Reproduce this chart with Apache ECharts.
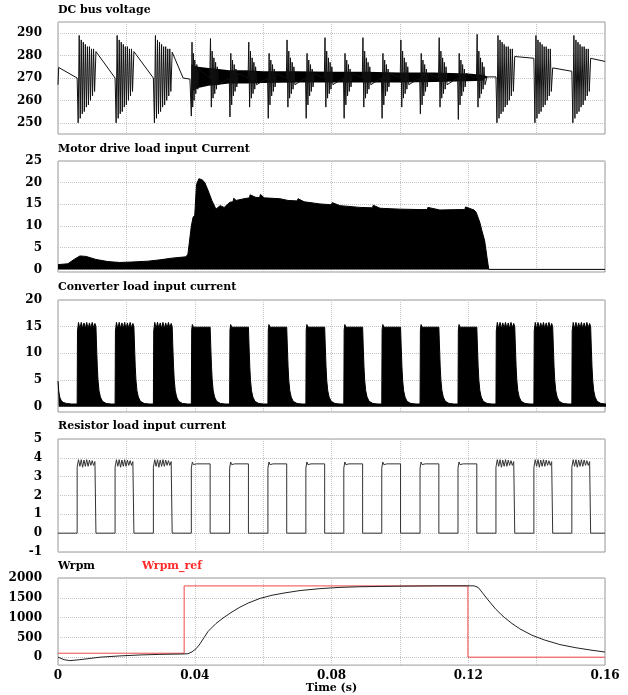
<!DOCTYPE html>
<html>
<head>
<meta charset="utf-8">
<script src="https://cdn.jsdelivr.net/npm/echarts@6/dist/echarts.min.js"></script>
<style>
  html, body { margin: 0; padding: 0; background: #fff; }
  #chart { width: 628px; height: 695px; }
</style>
</head>
<body>
<div id="chart"></div>
<script>
// time axis (s)
const timeTicks = [0, 0.04, 0.08, 0.12, 0.16];

// switching pulses of the converter / resistor loads (start times, s)
const pulseStarts = [0.0056, 0.0167, 0.0279, 0.0390, 0.0502, 0.0614, 0.0725,
                     0.0836, 0.0947, 0.1059, 0.1170, 0.1281, 0.1392, 0.1503];
const pulseRipple = [1, 1, 1, 0, 0, 0, 0, 0, 0, 0, 0, 1, 1, 1];

// DC bus voltage
const busSlow = [[0, 267], [0.0002, 274.7], [0.0056, 270], [0.0111, 281.8], [0.0167, 270],
                 [0.0222, 281.8], [0.0279, 270], [0.0334, 281.5], [0.0366, 270], [0.0386, 269.5],
                 [0.1255, 270.5], [0.1281, 270.5], [0.1336, 279.6], [0.1392, 278.8],
                 [0.1447, 274.5], [0.1503, 273], [0.1558, 278.8], [0.16, 277.4]];
const busBurstStarts = [0.0056, 0.0167, 0.0279, 0.1281, 0.1392, 0.1503];
const busBurstOff = [0.0003, 0.0006, 0.0009, 0.0012, 0.0015, 0.0018, 0.0021, 0.0024, 0.0027,
                     0.0030, 0.0033, 0.0036, 0.0039, 0.0042, 0.0045, 0.0048, 0.0051];
const busBurstVal = [250, 289, 252, 287, 254, 286, 255, 285, 257, 284, 258, 284, 260, 283, 262, 283, 264];
const busMotorT = [0.0388, 0.0390, 0.0392, 0.0394, 0.0396, 0.0398, 0.0400, 0.0403, 0.0406, 0.0409, 0.0412];
const busMotorV = [270, 253, 286, 257, 281, 260, 278, 263, 276, 265, 274];
const busDipTimes = [0.0502, 0.0614, 0.0725, 0.0836, 0.0947, 0.1059, 0.1170];
const busDipValues = [252.6, 252, 252, 252, 252, 254, 251.5];
const busPeakTimes = [0.0445, 0.0557, 0.0669, 0.0780, 0.0891, 0.1002, 0.1114, 0.1225];
const busPeakValues = [287.6, 286, 287, 288, 288, 287, 288, 289.5];
const busRingOff = [0.00025, 0.0005, 0.00075, 0.001, 0.00125, 0.0015, 0.00175, 0.002, 0.0023];
const busDipRing = [281, 258, 278, 262, 276, 264, 274, 266, 272];
const busPeakRing = [257, 282, 261, 279, 263, 277, 265, 275, 267];
const bandT = [0.0390, 0.0410, 0.0440, 0.0470, 0.0500, 0.0550, 0.0600, 0.0700,
               0.0800, 0.0900, 0.1000, 0.1100, 0.1200, 0.1240, 0.1255];
const bandHigh = [276, 275, 274.5, 274, 273.5, 273.5, 273, 273, 272.8, 272.8, 272.5, 272.5, 272, 271.5, 270.8];
const bandLow = [264, 265.5, 266.5, 267, 267.5, 267.5, 267.8, 268, 268, 268, 268, 268.2, 268.5, 268.8, 270.2];

// motor drive load input current (upper edge of the filled trace)
const motorT = [0, 0.0029, 0.0047, 0.0064, 0.0082, 0.0111, 0.0146, 0.0181, 0.0216, 0.0263, 0.0298,
                0.0333, 0.0374, 0.0380, 0.0390, 0.0395, 0.0400, 0.0405, 0.0412, 0.0421, 0.0429,
                0.0439, 0.0450, 0.0462, 0.0474, 0.0486, 0.0503, 0.0512, 0.0514, 0.0521, 0.0544,
                0.0560, 0.0562, 0.0579, 0.0590, 0.0592, 0.0603, 0.0649, 0.0673, 0.0700, 0.0702,
                0.0720, 0.0766, 0.0800, 0.0802, 0.0825, 0.0883, 0.0920, 0.0922, 0.0942, 0.1000,
                0.1059, 0.1080, 0.1082, 0.1117, 0.1176, 0.1190, 0.1192, 0.1217, 0.1223, 0.1234,
                0.1240, 0.1248, 0.1255, 0.1260, 0.16];
const motorI = [1.1, 1.3, 2.3, 3.1, 3.0, 2.3, 1.8, 1.6, 1.7, 1.9, 2.2,
                2.6, 2.9, 3.5, 10, 12, 12.5, 19.5, 20.9, 20.7, 20.1,
                18.2, 15.9, 13.9, 14.7, 14.3, 15.5, 15.6, 16.4, 15.9, 16.3,
                16.5, 17.2, 16.6, 16.6, 17.3, 16.5, 16.3, 15.9, 15.8, 16.3,
                15.6, 15.1, 14.9, 15.4, 14.7, 14.3, 14.2, 14.8, 14.1, 13.9,
                13.8, 13.8, 14.3, 13.7, 13.8, 13.8, 14.4, 13.7, 13.2, 10.8,
                8.9, 6.6, 2.7, 0, 0];

// converter load input current
const convStartT = [0, 0.0002, 0.0005, 0.0009, 0.0015, 0.0025, 0.0040];
const convStartI = [4.8, 3.0, 1.8, 1.2, 0.8, 0.6, 0.5];
const convRipOff = [0, 0.0001, 0.0004, 0.0008, 0.0012, 0.0016, 0.0020, 0.0024, 0.0028,
                    0.0032, 0.0036, 0.0040, 0.0044, 0.0048, 0.0052, 0.0055];
const convRipVal = [0.5, 14.2, 15.8, 14.6, 15.8, 14.7, 15.7, 14.7, 15.8, 14.6, 15.7, 14.7, 15.8, 14.8, 15.6, 15.0];
const convFlatOff = [0, 0.0001, 0.0003, 0.0006, 0.0010, 0.0015, 0.0055];
const convFlatVal = [0.5, 14.4, 15.4, 14.9, 15.1, 14.9, 14.9];
const convTailOff = [0.0057, 0.0059, 0.0061, 0.0064, 0.0068, 0.0074, 0.0085, 0.0100];
const convTailVal = [11.0, 7.5, 5.0, 3.0, 1.8, 1.0, 0.6, 0.5];

// resistor load input current
const resRipOff = [0, 0, 0.0004, 0.0008, 0.0012, 0.0016, 0.0020, 0.0024, 0.0028,
                   0.0032, 0.0036, 0.0040, 0.0044, 0.0048, 0.0052, 0.0055, 0.0055];
const resRipVal = [0, 3.5, 3.9, 3.55, 3.9, 3.5, 3.88, 3.55, 3.9, 3.55, 3.88, 3.6, 3.85, 3.6, 3.8, 3.7, 0];
const resFlatOff = [0, 0, 0.0003, 0.0006, 0.0010, 0.0015, 0.0055, 0.0055];
const resFlatVal = [0, 3.45, 3.78, 3.64, 3.72, 3.68, 3.68, 0];

// speed
const wrpmT = [0, 0.0018, 0.0035, 0.0064, 0.0123, 0.0181, 0.0240, 0.0298, 0.0357, 0.0380, 0.0392,
               0.0404, 0.0415, 0.0427, 0.0439, 0.0462, 0.0486, 0.0509, 0.0532, 0.0556, 0.0591,
               0.0626, 0.0661, 0.0708, 0.0766, 0.0825, 0.0883, 0.0942, 0.1000, 0.1117, 0.1217,
               0.1229, 0.1240, 0.1258, 0.1281, 0.1305, 0.1328, 0.1351, 0.1386, 0.1422, 0.1468,
               0.1515, 0.1562, 0.16];
const wrpmV = [0, -63, -87, -63, 0, 32, 56, 71, 79, 87, 135,
               214, 333, 492, 651, 850, 1008, 1143, 1262, 1366, 1485,
               1564, 1620, 1683, 1731, 1763, 1779, 1787, 1794, 1802, 1802,
               1763, 1644, 1445, 1207, 1008, 850, 715, 556, 437, 318,
               238, 175, 130];
const refT = [0, 0.0369, 0.0369, 0.1199, 0.1199, 0.16];
const refV = [100, 100, 1800, 1800, 0, 0];

function zip(ts, vs) {
  return ts.map((t, i) => [t, vs[i]]);
}
function placeShape(start, offs, vals, out) {
  offs.forEach((o, i) => out.push([start + o, vals[i]]));
}

// build traces
const busData = busSlow.slice();
busBurstStarts.forEach(s => placeShape(s, busBurstOff, busBurstVal, busData));
busData.push(...zip(busMotorT, busMotorV));
busDipTimes.forEach((t, k) => {
  busData.push([t - 0.0001, 270], [t + 0.0001, busDipValues[k]]);
  placeShape(t + 0.0001, busRingOff, busDipRing, busData);
});
busPeakTimes.forEach((t, k) => {
  busData.push([t - 0.0001, 270], [t + 0.0001, busPeakValues[k]]);
  placeShape(t + 0.0001, busRingOff, busPeakRing, busData);
});
busData.sort((a, b) => a[0] - b[0]);

const convData = zip(convStartT, convStartI);
pulseStarts.forEach((s, k) => {
  if (pulseRipple[k]) placeShape(s, convRipOff, convRipVal, convData);
  else placeShape(s, convFlatOff, convFlatVal, convData);
  placeShape(s, convTailOff, convTailVal, convData);
});

const resData = [[0, 0]];
pulseStarts.forEach((s, k) => {
  if (pulseRipple[k]) placeShape(s, resRipOff, resRipVal, resData);
  else placeShape(s, resFlatOff, resFlatVal, resData);
});
resData.push([0.16, 0]);

const font = 'DejaVu Serif';
const gridLine = { show: true, lineStyle: { color: '#c4c4c4', type: 'dotted', width: 1 } };

function xAxisFor(g, showLabels) {
  const ax = {
    type: 'value', gridIndex: g, min: 0, max: 0.16, interval: 0.02,
    axisLine: { show: false }, axisTick: { show: false },
    axisLabel: { show: false },
    splitLine: gridLine
  };
  if (showLabels) {
    ax.axisLabel = {
      show: true, customValues: timeTicks, margin: 5,
      formatter: v => (v === 0 ? '0' : v.toFixed(2)),
      color: '#000', fontFamily: font, fontWeight: 'bold', fontSize: 12
    };
    ax.name = 'Time (s)';
    ax.nameLocation = 'middle';
    ax.nameGap = 16;
    ax.nameTextStyle = { color: '#000', fontFamily: font, fontWeight: 'bold', fontSize: 11 };
  }
  return ax;
}
function yAxisFor(g, min, max, ticks) {
  return {
    type: 'value', gridIndex: g, min: min, max: max,
    axisLine: { show: false },
    axisTick: { show: false, customValues: ticks },
    axisLabel: {
      customValues: ticks, margin: 16, formatter: v => String(v),
      color: '#000', fontFamily: font, fontWeight: 'bold', fontSize: 12
    },
    splitLine: gridLine
  };
}

const titleStyle = { color: '#000', fontFamily: font, fontWeight: 'bold', fontSize: 11 };
const grids = [[22, 112], [161, 111], [300, 112], [439, 113], [578, 92]];

const chart = echarts.init(document.getElementById('chart'));
chart.setOption({
  animation: false,
  backgroundColor: '#fff',
  title: [
    { text: 'DC bus voltage', left: 58, top: 5, padding: 0, textStyle: titleStyle },
    { text: 'Motor drive load input Current', left: 58, top: 144, padding: 0, textStyle: titleStyle },
    { text: 'Converter load input current', left: 58, top: 282, padding: 0, textStyle: titleStyle },
    { text: 'Resistor load input current', left: 58, top: 421, padding: 0, textStyle: titleStyle },
    { text: 'Wrpm', left: 58, top: 561, padding: 0, textStyle: titleStyle },
    { text: 'Wrpm_ref', left: 142, top: 561, padding: 0, textStyle: Object.assign({}, titleStyle, { color: '#ff2a2a' }) }
  ],
  grid: grids.map(g => ({
    left: 58, right: 23, top: g[0], height: g[1],
    show: true, borderColor: '#999', borderWidth: 1, backgroundColor: 'transparent'
  })),
  xAxis: [0, 1, 2, 3, 4].map(i => xAxisFor(i, i === 4)),
  yAxis: [
    yAxisFor(0, 245, 295, [250, 260, 270, 280, 290]),
    yAxisFor(1, -0.6, 25, [0, 5, 10, 15, 20, 25]),
    yAxisFor(2, -1, 20, [0, 5, 10, 15, 20]),
    yAxisFor(3, -1, 5, [-1, 0, 1, 2, 3, 4, 5]),
    yAxisFor(4, -200, 2000, [0, 500, 1000, 1500, 2000])
  ],
  series: [
    {
      // dense switching band of the DC bus while the motor runs
      type: 'custom', xAxisIndex: 0, yAxisIndex: 0,
      data: [[0.08, 270]],
      renderItem: function (params, api) {
        const top = bandT.map((t, i) => api.coord([t, bandHigh[i]]));
        const bottom = bandT.map((t, i) => api.coord([t, bandLow[i]])).reverse();
        return { type: 'polygon', shape: { points: top.concat(bottom) }, style: { fill: '#000' } };
      }
    },
    {
      type: 'line', xAxisIndex: 0, yAxisIndex: 0, data: busData,
      symbol: 'none', lineStyle: { color: '#111', width: 1 }
    },
    {
      type: 'line', xAxisIndex: 1, yAxisIndex: 1, data: zip(motorT, motorI),
      symbol: 'none', lineStyle: { color: '#000', width: 1 },
      areaStyle: { color: '#000', opacity: 1 }
    },
    {
      type: 'line', xAxisIndex: 2, yAxisIndex: 2, data: convData,
      symbol: 'none', lineStyle: { color: '#000', width: 1 },
      areaStyle: { color: '#000', opacity: 1 }
    },
    {
      type: 'line', xAxisIndex: 3, yAxisIndex: 3, data: resData,
      symbol: 'none', lineStyle: { color: '#333', width: 1 }
    },
    {
      type: 'line', xAxisIndex: 4, yAxisIndex: 4, data: zip(refT, refV),
      symbol: 'none', lineStyle: { color: '#f04848', width: 1 }
    },
    {
      type: 'line', xAxisIndex: 4, yAxisIndex: 4, data: zip(wrpmT, wrpmV),
      symbol: 'none', lineStyle: { color: '#222', width: 1 }
    }
  ]
});
</script>
</body>
</html>
